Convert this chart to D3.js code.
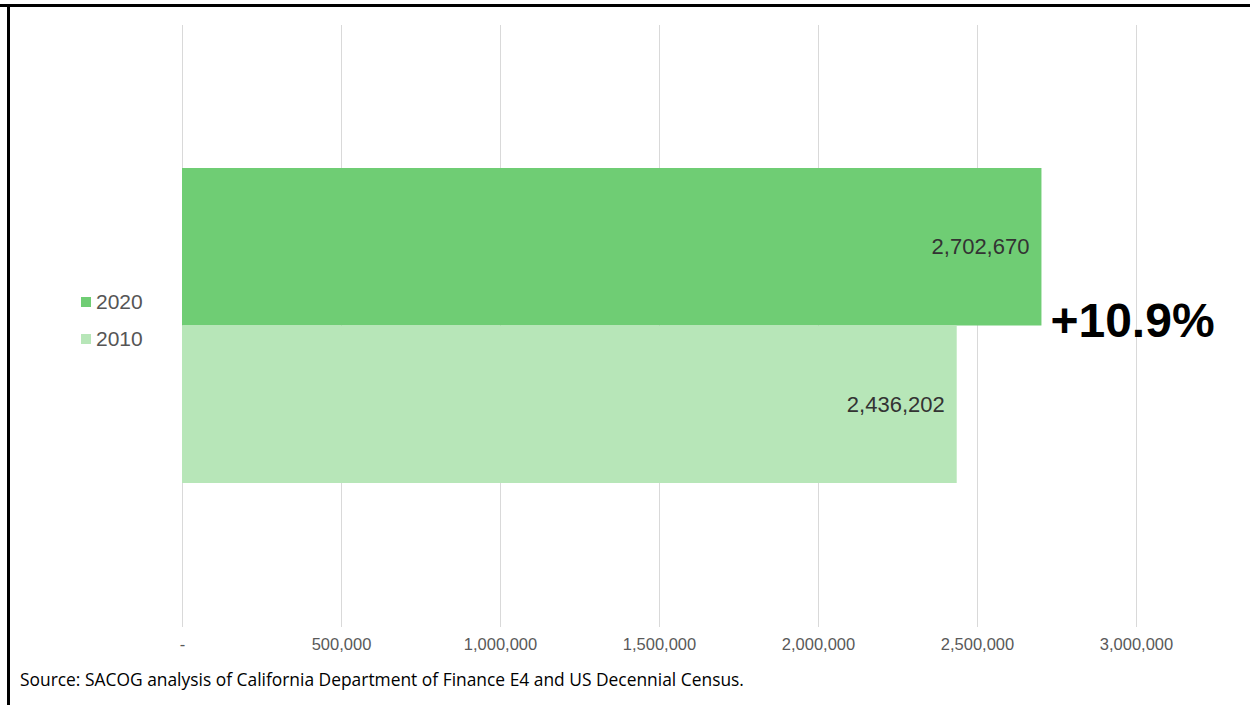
<!DOCTYPE html>
<html>
<head>
<meta charset="utf-8">
<script src="https://cdn.jsdelivr.net/npm/d3@7"></script>
<style>
  html, body { margin: 0; padding: 0; background: #fff; }
  svg { display: block; }
</style>
</head>
<body>
<div id="chart"></div>
<script>
// Regional population, decennial census years
const years = ["2020", "2010"];
const population = [2702670, 2436202];
const barColors = ["#6fcd74", "#b7e6b8"];
const tickValues = [0, 500000, 1000000, 1500000, 2000000, 2500000, 3000000];
const changeLabel = "+10.9%";
const sourceNote = "Source: SACOG analysis of California Department of Finance E4 and US Decennial Census.";

const W = 1250, H = 705;
const svg = d3.select("#chart").append("svg").attr("width", W).attr("height", H);

// frame lines along top and left edges
svg.append("rect").attr("x", 0).attr("y", 4).attr("width", W).attr("height", 3).attr("fill", "#000");
svg.append("rect").attr("x", 7).attr("y", 4).attr("width", 3).attr("height", H - 4).attr("fill", "#000");

const x = d3.scaleLinear().domain([0, 3000000]).range([182, 1136]);
const y = d3.scaleBand().domain(years).range([168, 483]).padding(0);

// vertical gridlines
svg.append("g").selectAll("line").data(tickValues).join("line")
  .attr("x1", d => x(d) + 0.5).attr("x2", d => x(d) + 0.5)
  .attr("y1", 25).attr("y2", 627)
  .attr("stroke", "#d9d9d9").attr("stroke-width", 1);

// axis labels
const fmt = d3.format(",");
const axis = d3.axisBottom(x).tickValues(tickValues)
  .tickFormat(d => d === 0 ? "-" : fmt(d)).tickSize(0).tickPadding(0);
const ag = svg.append("g").attr("transform", "translate(0,638)").call(axis);
ag.select(".domain").remove();
ag.selectAll("text").attr("font-family", "Liberation Sans, Arial, sans-serif")
  .attr("font-size", 16.5).attr("fill", "#595959");

// bars
svg.append("g").selectAll("rect").data(years).join("rect")
  .attr("x", x(0)).attr("y", d => y(d))
  .attr("width", (d, i) => x(population[i]) - x(0))
  .attr("height", y.bandwidth())
  .attr("fill", (d, i) => barColors[i]);

// value labels inside bar ends
svg.append("g").selectAll("text").data(years).join("text")
  .attr("x", (d, i) => x(population[i]) - 12)
  .attr("y", d => y(d) + y.bandwidth() / 2)
  .attr("dy", "0.35em")
  .attr("text-anchor", "end")
  .attr("font-family", "Liberation Sans, Arial, sans-serif")
  .attr("font-size", 22).attr("fill", "#333")
  .text((d, i) => fmt(population[i]));

// percent change callout
svg.append("text")
  .attr("x", x(population[0]) + 9)
  .attr("y", y("2010") + 11)
  .attr("font-family", "Liberation Sans, Arial, sans-serif")
  .attr("font-weight", "bold").attr("font-size", 48).attr("fill", "#000")
  .text(changeLabel);

// legend
const lg = svg.append("g").selectAll("g").data(years).join("g")
  .attr("transform", (d, i) => `translate(81,${297 + i * 37})`);
lg.append("rect").attr("width", 10).attr("height", 10).attr("fill", (d, i) => barColors[i]);
lg.append("text").attr("x", 15).attr("y", 5).attr("dy", "0.35em")
  .attr("font-family", "Liberation Sans, Arial, sans-serif")
  .attr("font-size", 21).attr("fill", "#555")
  .text(d => d);

// source note
svg.append("text").attr("x", 20).attr("y", 686)
  .attr("font-family", "Open Sans, Noto Sans, sans-serif")
  .attr("font-size", 17.4).attr("fill", "#000")
  .text(sourceNote);
</script>
</body>
</html>
